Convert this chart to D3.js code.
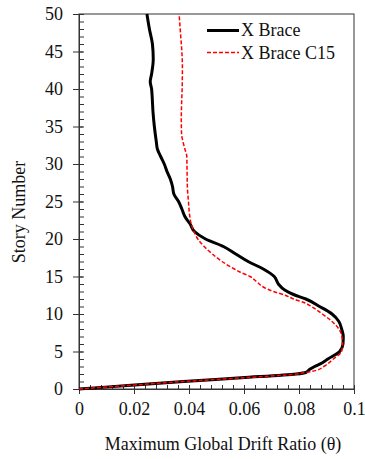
<!DOCTYPE html>
<html>
<head>
<meta charset="utf-8">
<script src="https://cdn.jsdelivr.net/npm/d3@7"></script>
<style>
  html, body { margin: 0; padding: 0; background: #fff; }
</style>
</head>
<body>
<svg id="chart" width="365" height="459"></svg>
<script>
// ---- data ----
const seriesNames = ["X Brace", "X Brace C15"];
const xBraceStory = [0,0.5,1,1.5,2,2.2,2.6,3,3.5,4,5,6,7,8,9,10,11,12,12.6,13.2,14,15,16,17,18,19,20,21,22,23,24,25,26,27,28,29,30,31,32,33,35,37,39,40,41,42,44,46,48,50];
const xBraceDrift = [0,0.019,0.038,0.059,0.079,0.0825,0.0838,0.0857,0.0885,0.0905,0.0948,0.096,0.0961,0.0955,0.0945,0.092,0.0875,0.0825,0.078,0.0748,0.0725,0.071,0.067,0.0615,0.057,0.0525,0.046,0.042,0.0404,0.0385,0.0374,0.0362,0.0345,0.034,0.0332,0.032,0.031,0.0297,0.0285,0.0281,0.0274,0.0269,0.0266,0.0264,0.0259,0.0264,0.027,0.0267,0.0256,0.0247];
const c15Story = [0,0.5,1,1.5,2,2.2,2.5,3,4,5,6,7,8,9,10,11,11.5,12,12.5,13,13.6,14.3,15,15.6,16,17,18,19,20,21,22,23,25,27,29,31,32,33,34,36,38,40,43,45,47,49,50];
const c15Drift = [0,0.019,0.038,0.06,0.079,0.0825,0.0864,0.089,0.0925,0.0955,0.0958,0.0956,0.0945,0.092,0.0885,0.0845,0.082,0.078,0.075,0.0707,0.067,0.0646,0.0622,0.0585,0.0565,0.052,0.0485,0.0455,0.0432,0.0418,0.0408,0.0403,0.0398,0.0394,0.0393,0.0392,0.0385,0.0378,0.0373,0.0372,0.0373,0.0375,0.0376,0.0374,0.037,0.0366,0.0364];
const xTicks = [0, 0.02, 0.04, 0.06, 0.08, 0.1];
const xTickLabels = ["0", "0.02", "0.04", "0.06", "0.08", "0.1"];
const yTicks = [0, 5, 10, 15, 20, 25, 30, 35, 40, 45, 50];
const xTitle = "Maximum Global Drift Ratio (\u03B8)";
const yTitle = "Story Number";

const FONT = "'Liberation Serif', 'Times New Roman', 'DejaVu Serif', serif";
const FS = "18px";

// ---- layout ----
const svg = d3.select("#chart");
const m = {left: 79, top: 14, right: 11, bottom: 70};
const W = 365 - m.left - m.right, H = 459 - m.top - m.bottom;
const x = d3.scaleLinear().domain([0, 0.1]).range([0, W]);
const y = d3.scaleLinear().domain([0, 50]).range([H, 0]);
const g = svg.append("g").attr("transform", `translate(${m.left},${m.top})`);

// frame
g.append("rect").attr("x", 0).attr("y", 0).attr("width", W).attr("height", H)
  .attr("fill", "none").attr("stroke", "#333").attr("stroke-width", 1);

// minor ticks
const xMinor = d3.range(0, 0.1001, 0.004).map(v => +v.toFixed(3));
const yMinor = d3.range(0, 51, 1);
g.append("g").attr("transform", `translate(0,${H})`)
  .call(d3.axisBottom(x).tickValues(xMinor).tickSize(-4).tickFormat(""))
  .call(a => a.select(".domain").remove())
  .selectAll("line").attr("stroke", "#333");
g.append("g")
  .call(d3.axisLeft(y).tickValues(yMinor).tickSize(-5).tickFormat(""))
  .call(a => a.select(".domain").remove())
  .selectAll("line").attr("stroke", "#333");

// major ticks
const xAx = g.append("g").attr("transform", `translate(0,${H})`)
  .call(d3.axisBottom(x).tickValues(xTicks).tickSize(5).tickPadding(8)
    .tickFormat((d, i) => xTickLabels[i]));
xAx.select(".domain").attr("stroke", "#333");
xAx.selectAll("line").attr("stroke", "#333");
xAx.selectAll("text").style("font-family", FONT).style("font-size", FS).attr("fill", "#111");

const yAx = g.append("g")
  .call(d3.axisLeft(y).tickValues(yTicks).tickSize(6).tickPadding(10));
yAx.select(".domain").attr("stroke", "#333");
yAx.selectAll(".tick line").attr("stroke", "#333").attr("x2", -6).attr("x1", 4);
yAx.selectAll("text").style("font-family", FONT).style("font-size", FS).attr("fill", "#111");

// lines
const line = d3.line().x(d => x(d[1])).y(d => y(d[0])).curve(d3.curveMonotoneY);
const blackData = xBraceStory.map((s, i) => [s, xBraceDrift[i]]);
const redData = c15Story.map((s, i) => [s, c15Drift[i]]);
g.append("path").datum(blackData).attr("d", line)
  .attr("fill", "none").attr("stroke", "#000").attr("stroke-width", 3);
g.append("path").datum(redData).attr("d", line)
  .attr("fill", "none").attr("stroke", "#ff0000").attr("stroke-width", 1.5)
  .attr("stroke-dasharray", "4,2");

// legend
const lg = svg.append("g");
lg.append("line").attr("x1", 207).attr("x2", 239).attr("y1", 30.5).attr("y2", 30.5)
  .attr("stroke", "#000").attr("stroke-width", 3);
lg.append("text").attr("x", 241).attr("y", 36).style("font-family", FONT).style("font-size", FS)
  .attr("fill", "#111").text(seriesNames[0]);
lg.append("line").attr("x1", 207).attr("x2", 239).attr("y1", 52.5).attr("y2", 52.5)
  .attr("stroke", "#ff0000").attr("stroke-width", 1.5).attr("stroke-dasharray", "4,2");
lg.append("text").attr("x", 241).attr("y", 58.5).style("font-family", FONT).style("font-size", FS)
  .attr("fill", "#111").text(seriesNames[1]);

// titles
svg.append("text").attr("x", 223).attr("y", 449.5).attr("text-anchor", "middle")
  .style("font-family", FONT).style("font-size", FS).attr("fill", "#111").text(xTitle);
svg.append("text").attr("transform", `translate(25,212) rotate(-90)`)
  .attr("text-anchor", "middle").style("font-family", FONT).style("font-size", FS)
  .attr("fill", "#111").text(yTitle);
</script>
</body>
</html>
